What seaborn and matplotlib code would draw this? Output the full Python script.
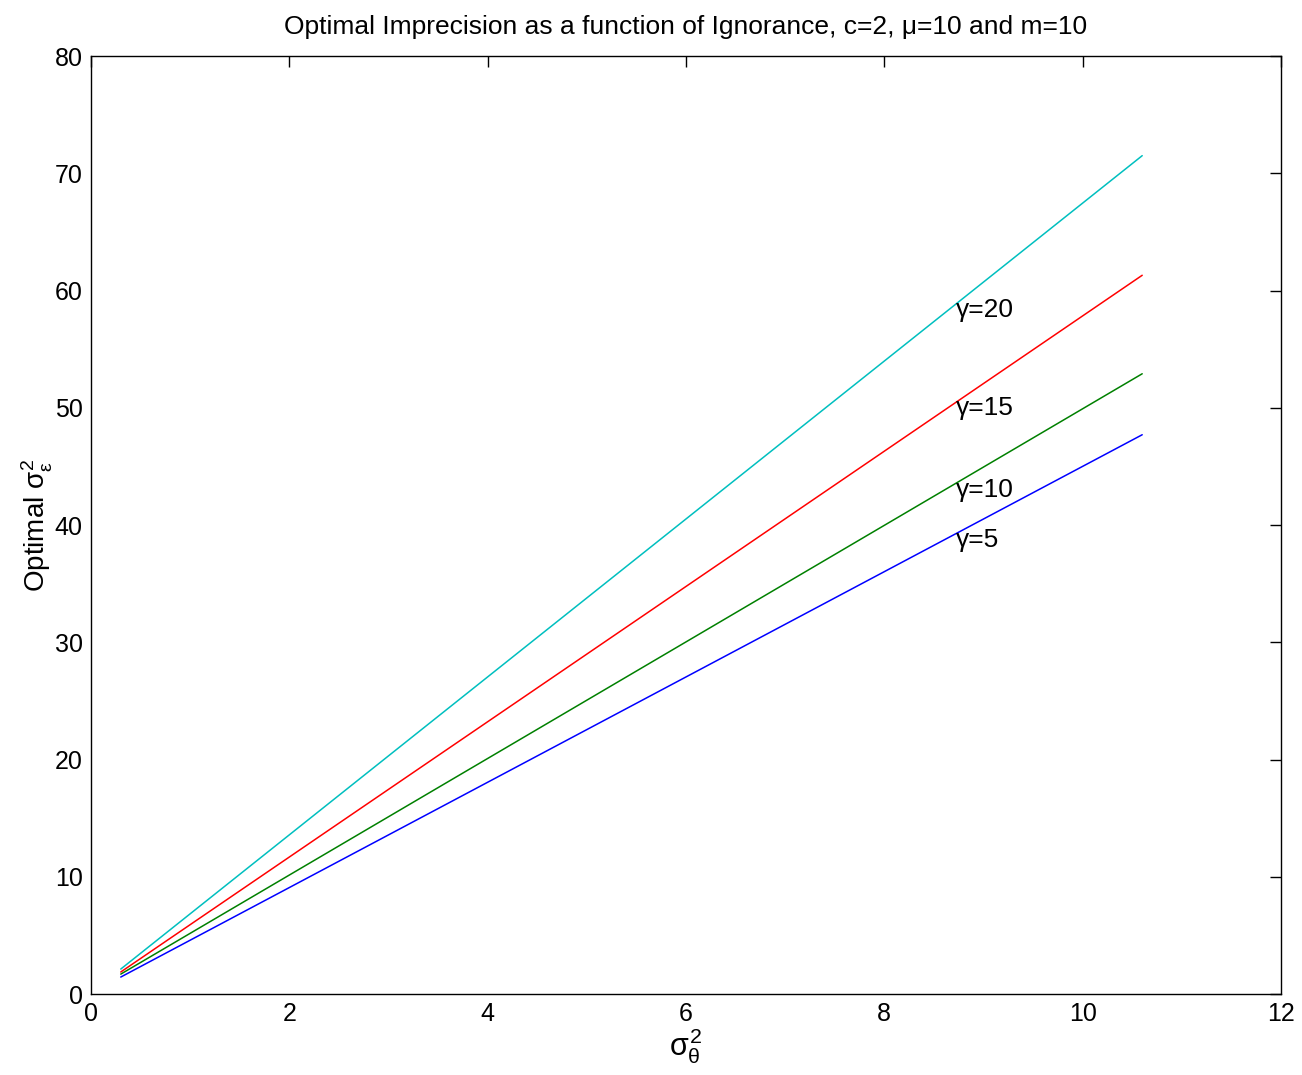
import numpy as np
import pandas as pd
import matplotlib
matplotlib.use("Agg")
import matplotlib.pyplot as plt
import seaborn as sns

# data (straight lines, endpoints only)
gammas = [5, 10, 15, 20]
x_ends = [0.3, 10.6]
y_start = [1.45, 1.70, 1.88, 2.13]
y_end = [47.7, 52.9, 61.3, 71.5]
label_y = [38.7, 43.0, 50.0, 58.3]
label_x = 8.72
colors = ["#0000ff", "#008000", "#ff0000", "#00bfbf"]

rows = []
for g, y0, y1 in zip(gammas, y_start, y_end):
    rows.append({"sigma_theta": x_ends[0], "sigma_eps": y0, "gamma": g})
    rows.append({"sigma_theta": x_ends[1], "sigma_eps": y1, "gamma": g})
df = pd.DataFrame(rows)

sns.set_style("white")
plt.rcParams["font.family"] = ["Liberation Sans", "DejaVu Sans"]
plt.rcParams["mathtext.fontset"] = "custom"
plt.rcParams["mathtext.rm"] = "Liberation Sans"
plt.rcParams["mathtext.it"] = "Liberation Sans"
plt.rcParams["mathtext.bf"] = "Liberation Sans:bold"
plt.rcParams["text.color"] = "black"
plt.rcParams["axes.labelcolor"] = "black"
plt.rcParams["xtick.color"] = "black"
plt.rcParams["ytick.color"] = "black"

fig = plt.figure(figsize=(13.02, 10.75), dpi=100)
ax = fig.add_axes([0.0699, 0.0753, 0.914, 0.8726])

sns.lineplot(data=df, x="sigma_theta", y="sigma_eps", hue="gamma",
             palette=colors, legend=False, ax=ax, linewidth=1.1)

for g, ly in zip(gammas, label_y):
    ax.text(label_x, ly, f"γ={g}", fontsize=19, va="center", ha="left")

ax.set_xlim(0, 12)
ax.set_ylim(0, 80)
ax.set_xticks(np.arange(0, 13, 2))
ax.set_yticks(np.arange(0, 81, 10))
ax.tick_params(direction="in", top=True, right=True, length=8, width=1,
               labelsize=18, pad=6)
for s in ax.spines.values():
    s.set_linewidth(1.0)
    s.set_color("black")

ax.set_title("Optimal Imprecision as a function of Ignorance, c=2, μ=10 and m=10",
             fontsize=19, pad=16)
ax.set_xlabel(r"$\sigma_\theta^2$", fontsize=22, labelpad=0)
ax.set_ylabel(r"Optimal $\sigma_\varepsilon^2$", fontsize=20, labelpad=0)

fig.savefig("out.png", dpi=100)
